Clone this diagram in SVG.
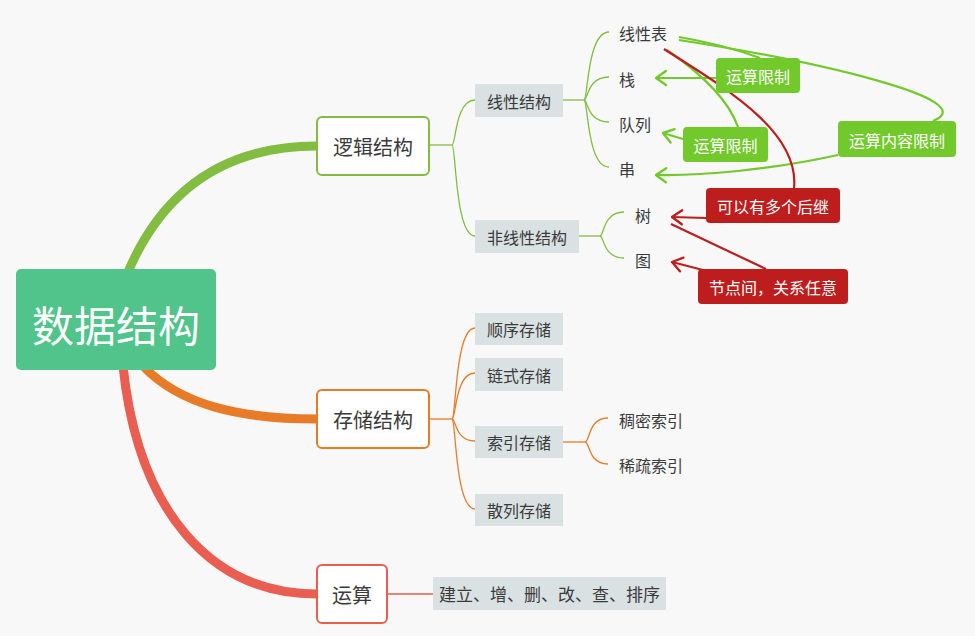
<svg xmlns="http://www.w3.org/2000/svg" width="975" height="636" viewBox="0 0 975 636">
<style>
text { font-family: 'Noto Sans CJK SC', 'Noto Sans', sans-serif; fill: #3a3a3a; dominant-baseline: central; text-anchor: middle; }
.root rect { fill: #50c48b; }
.root text { fill: #ffffff; font-size: 42px; }
.l1 rect { fill: #ffffff; stroke-width: 2; }
.l1 text { font-size: 20px; }
.l2 rect { fill: #dae1e3; }
.l2 text { font-size: 16px; }
.l3 text { font-size: 16px; text-anchor: start; }
.ann text { fill: #ffffff; font-size: 16px; }
.gbox { fill: #72c92c; }
.rbox { fill: #be1d1d; }
.conn path { fill: none; }
.thick { stroke-width: 9; stroke-linecap: round; }
.gt { stroke: #82bc40; stroke-width: 1.3; }
.ot { stroke: #e87b27; stroke-width: 1.3; }
.rt { stroke: #e95e50; stroke-width: 1.3; }
.ga { stroke: #72c92c; stroke-width: 2.2; }
.ra { stroke: #be1d1d; stroke-width: 2.2; }
</style>
<defs>
<marker id="ag" markerUnits="userSpaceOnUse" markerWidth="16" markerHeight="18" viewBox="0 0 16 18" refX="13" refY="9" orient="auto" overflow="visible">
<path d="M3 2 L13 9 L3 16" fill="none" stroke="#72c92c" stroke-width="2.4" stroke-linecap="round" stroke-linejoin="round"/>
</marker>
<marker id="ar" markerUnits="userSpaceOnUse" markerWidth="16" markerHeight="18" viewBox="0 0 16 18" refX="13" refY="9" orient="auto" overflow="visible">
<path d="M3 2 L13 9 L3 16" fill="none" stroke="#be1d1d" stroke-width="2.4" stroke-linecap="round" stroke-linejoin="round"/>
</marker>
</defs>
<rect width="975" height="636" fill="#f8f8f8"/>

<g id="connectors" class="conn">
<!-- main branches -->
<path class="thick" stroke="#82bc40" d="M128 272 C165 185 230 146 317 146"/>
<path class="thick" stroke="#e87b27" d="M143 366 C180 405 240 419 317 419"/>
<path class="thick" stroke="#e95e50" stroke-width="10" d="M123 366 C138 510 210 594 317 594"/>
<!-- 逻辑结构 -->
<path class="gt" d="M429 145 L452 145"/>
<path class="gt" d="M452 145 C456 145 455 100 475 100"/>
<path class="gt" d="M452 145 C456 145 455 236 475 236"/>
<path class="gt" d="M563 100 L584 100"/>
<path class="gt" d="M584 100 C588 100 587 32 609 32"/>
<path class="gt" d="M584 100 C588 100 587 77 609 77"/>
<path class="gt" d="M584 100 C588 100 587 122 609 122"/>
<path class="gt" d="M584 100 C588 100 587 167 609 167"/>
<path class="gt" d="M579 236 L600 236"/>
<path class="gt" d="M600 236 C604 236 603 212 624 212"/>
<path class="gt" d="M600 236 C604 236 603 258 624 258"/>
<!-- 存储结构 -->
<path class="ot" d="M429 419 L452 419"/>
<path class="ot" d="M452 419 C456 419 455 328 475 328"/>
<path class="ot" d="M452 419 C456 419 455 373 475 373"/>
<path class="ot" d="M452 419 C456 419 455 441 475 441"/>
<path class="ot" d="M452 419 C456 419 455 509 475 509"/>
<path class="ot" d="M563 442 L585 442"/>
<path class="ot" d="M585 442 C590 442 588 418 608 418"/>
<path class="ot" d="M585 442 C590 442 588 464 608 464"/>
<!-- 运算 -->
<path class="rt" d="M387 594 L433 594"/>
<!-- annotations -->
<path class="ga" d="M679 37 Q725 45 760 58"/>
<path class="ga" marker-end="url(#ag)" d="M716 78 L656 78"/>
<path class="ga" d="M667 50 Q725 90 738 127"/>
<path class="ga" marker-end="url(#ag)" d="M683 139 L663 133"/>
<path class="ga" d="M679 40 C820 62 985 100 933 121"/>
<path class="ga" marker-end="url(#ag)" d="M838 155 C770 170 700 176 656 175"/>
<path class="ra" d="M664 49 C720 85 800 130 794 188"/>
<path class="ra" marker-end="url(#ar)" d="M706 218 L672 217"/>
<path class="ra" d="M671 224 L766 269"/>
<path class="ra" marker-end="url(#ar)" d="M703 270 L672 262"/>
</g>

<g id="root" class="root">
<rect x="16" y="269" width="200" height="101" rx="5"/>
<text x="116" y="323">数据结构</text>
</g>

<g id="logic" class="l1">
<rect x="317" y="117" width="112" height="58" rx="5" stroke="#82bc40"/>
<text x="373" y="146">逻辑结构</text>
</g>
<g id="storage" class="l1">
<rect x="317" y="390" width="112" height="58" rx="5" stroke="#e87b27"/>
<text x="373" y="419">存储结构</text>
</g>
<g id="ops" class="l1">
<rect x="317" y="565" width="70" height="58" rx="5" stroke="#e95e50"/>
<text x="352" y="594">运算</text>
</g>

<g id="linear" class="l2">
<rect x="475" y="84" width="88" height="33"/>
<text x="519" y="100.5">线性结构</text>
</g>
<g id="nonlinear" class="l2">
<rect x="475" y="220" width="104" height="33"/>
<text x="527" y="236.5">非线性结构</text>
</g>
<g id="seq" class="l2">
<rect x="475" y="313" width="88" height="32"/>
<text x="519" y="329">顺序存储</text>
</g>
<g id="chain" class="l2">
<rect x="475" y="358" width="88" height="33"/>
<text x="519" y="374.5">链式存储</text>
</g>
<g id="index" class="l2">
<rect x="475" y="426" width="88" height="32"/>
<text x="519" y="442">索引存储</text>
</g>
<g id="hash" class="l2">
<rect x="475" y="494" width="88" height="32"/>
<text x="519" y="510">散列存储</text>
</g>
<g id="opslist" class="l2">
<rect x="433" y="577" width="233" height="33"/>
<text x="549.5" y="593.5" style="font-size:17px">建立、增、删、改、查、排序</text>
</g>

<g id="list" class="l3"><text x="619" y="33">线性表</text></g>
<g id="stack" class="l3"><text x="619" y="79">栈</text></g>
<g id="queue" class="l3"><text x="619" y="124">队列</text></g>
<g id="string" class="l3"><text x="619" y="169">串</text></g>
<g id="tree" class="l3"><text x="635" y="215">树</text></g>
<g id="graph" class="l3"><text x="635" y="260">图</text></g>
<g id="dense" class="l3"><text x="619" y="420">稠密索引</text></g>
<g id="sparse" class="l3"><text x="619" y="465">稀疏索引</text></g>

<g id="note-stack" class="ann">
<rect class="gbox" x="716" y="58" width="84" height="35" rx="4"/>
<text x="758" y="76">运算限制</text>
</g>
<g id="note-queue" class="ann">
<rect class="gbox" x="683" y="127" width="85" height="35" rx="4"/>
<text x="725.5" y="145">运算限制</text>
</g>
<g id="note-string" class="ann">
<rect class="gbox" x="838" y="121" width="118" height="36" rx="4"/>
<text x="897" y="139.5">运算内容限制</text>
</g>
<g id="note-tree" class="ann">
<rect class="rbox" x="706" y="188" width="134" height="35" rx="4"/>
<text x="773" y="206">可以有多个后继</text>
</g>
<g id="note-graph" class="ann">
<rect class="rbox" x="698" y="269" width="150" height="35" rx="4"/>
<text x="773" y="287">节点间，关系任意</text>
</g>
</svg>
